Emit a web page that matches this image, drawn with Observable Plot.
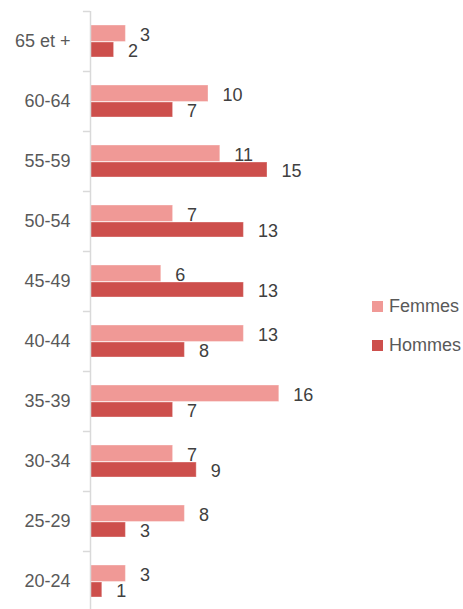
<!DOCTYPE html>
<html><head><meta charset="utf-8">
<script src="https://cdn.jsdelivr.net/npm/d3@7"></script>
<script src="https://cdn.jsdelivr.net/npm/@observablehq/plot@0.6"></script>
<style>
body{margin:0;background:#fff;}
#wrap{position:relative;width:463px;height:609px;overflow:hidden;font-family:"Liberation Sans",Arial,sans-serif;}
.leg{position:absolute;left:372px;height:20px;font-size:18px;color:#595959;display:flex;align-items:center;white-space:nowrap;}
.sw{width:11px;height:11px;margin-right:6px;}
</style></head><body><div id="wrap"></div>
<script>
const categories = ["65 et +","60-64","55-59","50-54","45-49","40-44","35-39","30-34","25-29","20-24"];
const femmes = [3,10,11,7,6,13,16,7,8,3];
const hommes = [2,7,15,13,13,8,7,9,3,1];
const series = ["Femmes","Hommes"];
const colors = ["#F09996","#CD4F4C"];

const fData = categories.map((c,i)=>({cat:c, v:femmes[i]}));
const hData = categories.map((c,i)=>({cat:c, v:hommes[i]}));

const chart = Plot.plot({
  width:463, height:609, marginTop:11, marginBottom:0, marginLeft:90, marginRight:0,
  style:{fontFamily:"Liberation Sans, Arial, sans-serif", fontSize:"18px", background:"transparent", overflow:"visible"},
  x:{domain:[0,16], range:[90, 90+16*11.8], axis:null},
  y:{domain:categories, range:[11,611], padding:0, axis:null},
  marks:[
    Plot.barX(fData,{x:"v", y:"cat", fill:colors[0], insetTop:14, insetBottom:29.5, stroke:"#fff", strokeOpacity:0.35, strokeWidth:1}),
    Plot.barX(hData,{x:"v", y:"cat", fill:colors[1], insetTop:31, insetBottom:14, stroke:"#fff", strokeOpacity:0.35, strokeWidth:1}),
    Plot.text(fData,{x:"v", y:"cat", text:d=>String(d.v), dx:14, dy:-6, textAnchor:"start", fill:"#404040", fontSize:18}),
    Plot.text(hData,{x:"v", y:"cat", text:d=>String(d.v), dx:14, dy:9.5, textAnchor:"start", fill:"#404040", fontSize:18}),
    Plot.ruleX([0], {stroke:"#d9d9d9", strokeWidth:1.5}),
    Plot.ruleY(categories, {y:d=>d, dy:-30, x1:-0.6, x2:0, stroke:"#d9d9d9", strokeWidth:1.5}),
    Plot.axisY({tickSize:0, tickPadding:20, label:null, fill:"#595959", fontSize:18})
  ]
});
const wrap = document.getElementById("wrap");
wrap.appendChild(chart);

const legTops = [296, 335];
series.forEach((s,i)=>{
  const d = document.createElement("div");
  d.className = "leg";
  d.style.top = legTops[i] + "px";
  const sw = document.createElement("span");
  sw.className = "sw";
  sw.style.background = colors[i];
  d.appendChild(sw);
  d.appendChild(document.createTextNode(s));
  wrap.appendChild(d);
});
</script></body></html>
